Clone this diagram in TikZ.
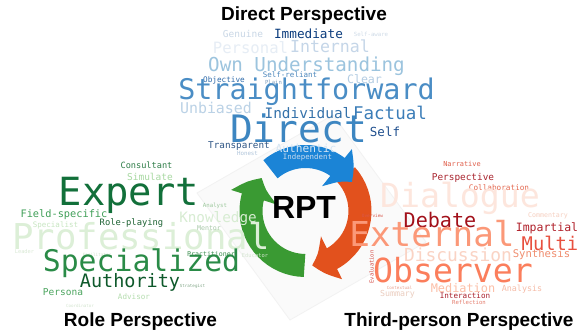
\documentclass[tikz,border=0pt]{standalone}
\usepackage{fontspec}
\usepackage{xcolor}
\usetikzlibrary{arrows.meta,bending}
\newfontfamily\cloudfont{DejaVu Sans Mono}
\newfontfamily\headfont{Liberation Sans}

% colours of the three clouds
\definecolor{ringblue}{HTML}{1B84D6}
\definecolor{ringorange}{HTML}{E2511D}
\definecolor{ringgreen}{HTML}{3A9A33}

\tikzset{
  cw/.style={inner sep=0pt, font=\cloudfont\fontsize{#1}{#1}\selectfont},
  head/.style={inner sep=0pt, font=\headfont\bfseries\fontsize{19}{19}\selectfont},
  ringarrow/.style={line width=23pt, -{Triangle[width=46pt,length=21pt,bend]}},
}

\begin{document}
\begin{tikzpicture}[x=1pt,y=1pt]

\fill[white] (0,0) rectangle (587,334);
\useasboundingbox (0,0) rectangle (587,334);

% card behind the cycle:
\coordinate (c1) at (197,141);
\coordinate (c2) at (290,14);
\coordinate (c3) at (426,92);
\coordinate (c4) at (333,219);
\draw[black!5, fill=black!2, line width=0.8pt] (c1) -- (c2) -- (c3) -- (c4) -- cycle;

% cycle:
\coordinate (hub) at (305.5,123);
\draw[ringarrow, ringorange] ([shift={(42:54.5)}]hub) arc[start angle=42, end angle=-83, radius=54.5];
\draw[ringarrow, ringgreen] ([shift={(-91:54.5)}]hub) arc[start angle=-91, end angle=-217, radius=54.5];
\draw[ringarrow, ringblue] ([shift={(130:54.5)}]hub) arc[start angle=130, end angle=32, radius=54.5];


% direct cloud:
\node[cw=9.5, color={rgb,255:red,201;green,215;blue,230}] (genuine) at (243,300) {Genuine};
\node[cw=12.7, color={rgb,255:red,11;green,60;blue,125}] (immediate) at (308.5,300.5) {Immediate};
\node[cw=5.7, color={rgb,255:red,208;green,220;blue,232}] (selfaware) at (371,300) {Self-aware};
\node[cw=15.6, color={rgb,255:red,230;green,237;blue,245}] (personal) at (250.5,286) {Personal};
\node[cw=16.6, color={rgb,255:red,197;green,214;blue,232}] (internal) at (330,288) {Internal};
\node[cw=19.2, color={rgb,255:red,156;green,196;blue,222}] (ownunderstanding) at (306.5,268) {Own Understanding};
\node[cw=7.5, color={rgb,255:red,76;green,135;blue,188}] (selfreliant) at (290,259) {Self-reliant};
\node[cw=7.7, color={rgb,255:red,47;green,107;blue,170}] (objective) at (224,254) {Objective};
\node[cw=5.6, color={rgb,255:red,127;green,159;blue,191}] (plain) at (273.5,252) {Plain};
\node[cw=11.6, color={rgb,255:red,180;green,205;blue,227}] (clear) at (364.5,255) {Clear};
\node[cw=28.4, color={rgb,255:red,74;green,141;blue,197}] (straightforward) at (306.5,242) {Straightforward};
\node[cw=14.9, color={rgb,255:red,187;green,210;blue,230}] (unbiased) at (216,226) {Unbiased};
\node[cw=14.4, color={rgb,255:red,53;green,114;blue,170}] (individual) at (308,221) {Individual};
\node[cw=17.5, color={rgb,255:red,59;green,125;blue,184}] (factual) at (390,221) {Factual};
\node[cw=37.8, color={rgb,255:red,61;green,134;blue,193}] (direct) at (298.5,206) {Direct};
\node[cw=12.5, color={rgb,255:red,31;green,79;blue,142}] (self) at (385,202) {Self};
\node[cw=9.3, color={rgb,255:red,46;green,85;blue,133}] (transparent) at (239,188) {Transparent};
\node[cw=5.8, color={rgb,255:red,175;green,196;blue,218}] (honest) at (247.5,181) {Honest};
\node[cw=11.2, color={rgb,255:red,214;green,230;blue,244}] (authentic) at (306,186) {Authentic};
\node[cw=7.4, color={rgb,255:red,198;green,219;blue,239}] (independent) at (307.5,177) {Independent};

% role cloud:
\node[cw=8.6, color={rgb,255:red,46;green,125;blue,72}] (consultant) at (146.5,169) {Consultant};
\node[cw=9.5, color={rgb,255:red,168;green,217;blue,162}] (simulate) at (150,157) {Simulate};
\node[cw=38.8, color={rgb,255:red,18;green,112;blue,58}] (expert) at (129,139) {Expert};
\node[cw=10.3, color={rgb,255:red,63;green,159;blue,87}] (fieldspecific) at (64,119) {Field-specific};
\node[cw=7.5, color={rgb,255:red,199;green,230;blue,193}] (specialist) at (55.5,109) {Specialist};
\node[cw=8.8, color={rgb,255:red,30;green,99;blue,52}] (roleplaying) at (131.5,111) {Role-playing};
\node[cw=14.3, color={rgb,255:red,215;green,236;blue,210}] (knowledge) at (218,115) {Knowledge};
\node[cw=5.7, color={rgb,255:red,156;green,200;blue,156}] (analyst) at (215,128) {Analyst};
\node[cw=35.6, color={rgb,255:red,220;green,239;blue,215}] (professional) at (141,98) {Professional};
\node[cw=6.6, color={rgb,255:red,169;green,201;blue,169}] (mentor) at (209,106) {Mentor};
\node[cw=5.3, color={rgb,255:red,217;green,233;blue,213}] (leader) at (24.5,82) {Leader};
\node[cw=4.3, color={rgb,255:red,208;green,228;blue,204}] (facilitator) at (97,79) {Facilitator};
\node[cw=6.6, color={rgb,255:red,61;green,143;blue,80}] (practitioner) at (211,80) {Practitioner};
\node[cw=5.4, color={rgb,255:red,213;green,230;blue,209}] (educator) at (255,79) {Educator};
\node[cw=29.8, color={rgb,255:red,42;green,139;blue,71}] (specialized) at (141.5,71) {Specialized};
\node[cw=18.5, color={rgb,255:red,14;green,89;blue,43}] (authority) at (130,52) {Authority};
\node[cw=4.2, color={rgb,255:red,127;green,165;blue,133}] (strategist) at (192.5,48) {Strategist};
\node[cw=9.5, color={rgb,255:red,76;green,165;blue,95}] (persona) at (63,42) {Persona};
\node[cw=7.6, color={rgb,255:red,181;green,221;blue,175}] (advisor) at (134,37) {Advisor};
\node[cw=4.2, color={rgb,255:red,211;green,229;blue,207}] (coordinator) at (80,28) {Coordinator};

% third-person cloud:
\node[cw=6.9, color={rgb,255:red,224;green,95;blue,75}] (narrative) at (462,170) {Narrative};
\node[cw=9.4, color={rgb,255:red,169;green,36;blue,46}] (perspective) at (463,156) {Perspective};
\node[cw=7.7, color={rgb,255:red,228;green,104;blue,79}] (collaboration) at (499,146) {Collaboration};
\node[cw=33.2, color={rgb,255:red,253;green,230;blue,221}] (dialogue) at (460,136) {Dialogue};
\node[cw=4.4, color={rgb,255:red,217;green,87;blue,74}] (overview) at (372.5,118) {Overview};
\node[cw=6.6, color={rgb,255:red,246;green,207;blue,192}] (commentary) at (548,118) {Commentary};
\node[cw=20.1, color={rgb,255:red,162;green,16;blue,26}] (debate) at (440,114) {Debate};
\node[cw=11.5, color={rgb,255:red,176;green,32;blue,42}] (impartial) at (547,106) {Impartial};
\node[cw=34.3, color={rgb,255:red,251;green,152;blue,120}] (external) at (432,100) {External};
\node[cw=18.8, color={rgb,255:red,232;green,80;blue,63}] (multi) at (550,91) {Multi};
\node[cw=17.9, color={rgb,255:red,250;green,211;blue,196}] (discussion) at (458,79) {Discussion};
\node[cw=10.6, color={rgb,255:red,240;green,141;blue,110}] (synthesis) at (541.5,79) {Synthesis};
\node[cw=5.5, rotate=90, color={rgb,255:red,212;green,75;blue,69}] (evaluation) at (371.5,67) {Evaluation};
\node[cw=33.2, color={rgb,255:red,251;green,126;blue,92}] (observer) at (453,64) {Observer};
\node[cw=4.2, color={rgb,255:red,232;green,160;blue,143}] (contextual) at (399.5,46) {Contextual};
\node[cw=8.3, color={rgb,255:red,235;green,205;blue,191}] (summary) at (397.5,40) {Summary};
\node[cw=11.9, color={rgb,255:red,252;green,191;blue,167}] (mediation) at (463,46) {Mediation};
\node[cw=8.4, color={rgb,255:red,246;green,188;blue,168}] (analysis) at (522,45) {Analysis};
\node[cw=7.6, color={rgb,255:red,168;green,30;blue,42}] (interaction) at (465,38) {Interaction};
\node[cw=5.6, color={rgb,255:red,228;green,124;blue,108}] (reflection) at (469,32) {Reflection};


% centre and headings:
\node[inner sep=0pt, font=\headfont\bfseries\fontsize{32}{32}\selectfont] (rpt) at (304,126.5) {RPT};
\node[head] (directhead) at (304,318) {Direct Perspective};
\node[head] (rolehead) at (140.5,12) {Role Perspective};
\node[head] (thirdhead) at (459,12) {Third-person Perspective};

\end{tikzpicture}
\end{document}
